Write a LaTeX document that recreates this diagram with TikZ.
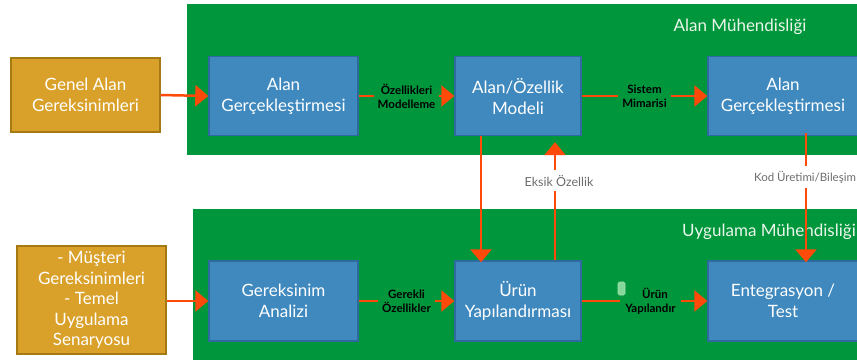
\documentclass[tikz,border=0pt]{standalone}
\usepackage{fontspec}
\setmainfont{Lato}
\usetikzlibrary{arrows.meta}
\definecolor{bggreen}{HTML}{00963C}
\definecolor{boxblue}{HTML}{3F89BE}
\definecolor{boxblueb}{HTML}{2E6AA0}
\definecolor{boxorange}{HTML}{D9A129}
\definecolor{boxorangeb}{HTML}{A67A12}
\definecolor{arrowred}{HTML}{FF4A0A}
\definecolor{labgray}{HTML}{6E6E6E}
\definecolor{titlewhite}{HTML}{EAF6EA}
\definecolor{glyphgreen}{HTML}{86D89A}
\tikzset{
  bluebox/.style={draw=boxblueb, line width=1.4pt, fill=boxblue, text=white,
    align=center, font=\fontsize{17}{21}\selectfont, inner sep=0pt},
  orangebox/.style={draw=boxorangeb, line width=1.4pt, fill=boxorange, text=white,
    align=center, font=\fontsize{17}{20.5}\selectfont, inner sep=0pt},
  flow/.style={draw=arrowred, line width=2.5pt, -{Triangle[length=13pt,width=21pt]}},
  greenlab/.style={fill=bggreen, text=black, align=center, inner sep=4pt,
    font=\bfseries\fontsize{11.5}{14}\selectfont},
  graylab/.style={fill=white, text=labgray, align=center, inner xsep=2pt, inner ysep=5pt,
    font=\fontsize{12.5}{14}\selectfont},
  titletext/.style={text=titlewhite, font=\fontsize{17}{20}\selectfont, inner sep=0pt},
  greenbg/.style={fill=bggreen, draw=none}
}
\begin{document}
\begin{tikzpicture}[x=1pt,y=-1pt]
\useasboundingbox (0,0) rectangle (857,362);
\clip (0,0) rectangle (857,362);
\fill[white] (0,0) rectangle (857,362);
% green backgrounds
\path[greenbg] (187,4) rectangle (870,155);
\path[greenbg] (193,209) rectangle (870,360);
\node[titletext] (t1) at (740,27) {Alan Mühendisliği};
\node[titletext] (t2) at (769,232) {Uygulama Mühendisliği};
% boxes
\node[orangebox, minimum width=149pt, minimum height=74pt] (g1) at (85.5,95) {Genel Alan\\Gereksinimleri};
\node[orangebox, minimum width=149pt, minimum height=108pt] (g2) at (91.5,300) {- Müşteri\\Gereksinimleri\\- Temel\\Uygulama\\Senaryosu};
\node[bluebox, minimum width=149pt, minimum height=79pt] (b1) at (283.5,96) {Alan\\Gerçekleştirmesi};
\node[bluebox, minimum width=126pt, minimum height=79pt] (b2) at (518,96) {Alan/Özellik\\Modeli};
\node[bluebox, minimum width=150pt, minimum height=79pt] (b3) at (783,96) {Alan\\Gerçekleştirmesi};
\node[bluebox, minimum width=149pt, minimum height=80pt] (b4) at (283.5,301) {Gereksinim\\Analizi};
\node[bluebox, minimum width=126pt, minimum height=80pt] (b5) at (518,301) {Ürün\\Yapılandırması};
\node[bluebox, minimum width=150pt, minimum height=80pt] (b6) at (783,301) {Entegrasyon /\\Test};
% connectors
\draw[flow] (g1.east) -- (b1.west);
\draw[flow] (b1.east) -- node[greenlab] (l1) {Özellikleri\\Modelleme} (b2.west);
\draw[flow] (b2.east) -- node[greenlab] (l2) {Sistem\\Mimarisi} (b3.west);
\draw[flow] (g2.east |- b4.west) -- (b4.west);
\draw[flow] (b4.east) -- node[greenlab] (l3) {Gerekli\\Özellikler} (b5.west);
\draw[flow] (b5.east) -- node[greenlab, xshift=6pt, inner xsep=5pt] (l4) {\hspace*{9pt}Ürün\\Yapılandır} (b6.west);
\draw[flow] ([xshift=-37pt]b2.south) -- ([xshift=-37pt,yshift=-2pt]b5.north);
\draw[flow, shorten >=6pt] ([xshift=37pt]b5.north) -- node[graylab, pos=0.64, xshift=4pt] (l5) {Eksik Özellik} ([xshift=37pt]b2.south);
\draw[flow] ([xshift=23pt,yshift=3pt]b3.south) -- node[graylab, pos=0.34, font=\fontsize{11.5}{14}\selectfont, xshift=-1pt] (l6) {Kod Üretimi/Bileşim} ([xshift=23pt,yshift=-2pt]b6.north);
\node[draw=glyphgreen!70!white, fill=glyphgreen, rounded corners=1.5pt, minimum width=7pt, minimum height=13pt, inner sep=0pt, line width=0.6pt] (gl) at (621.5,288.5) {};
\end{tikzpicture}
\end{document}
